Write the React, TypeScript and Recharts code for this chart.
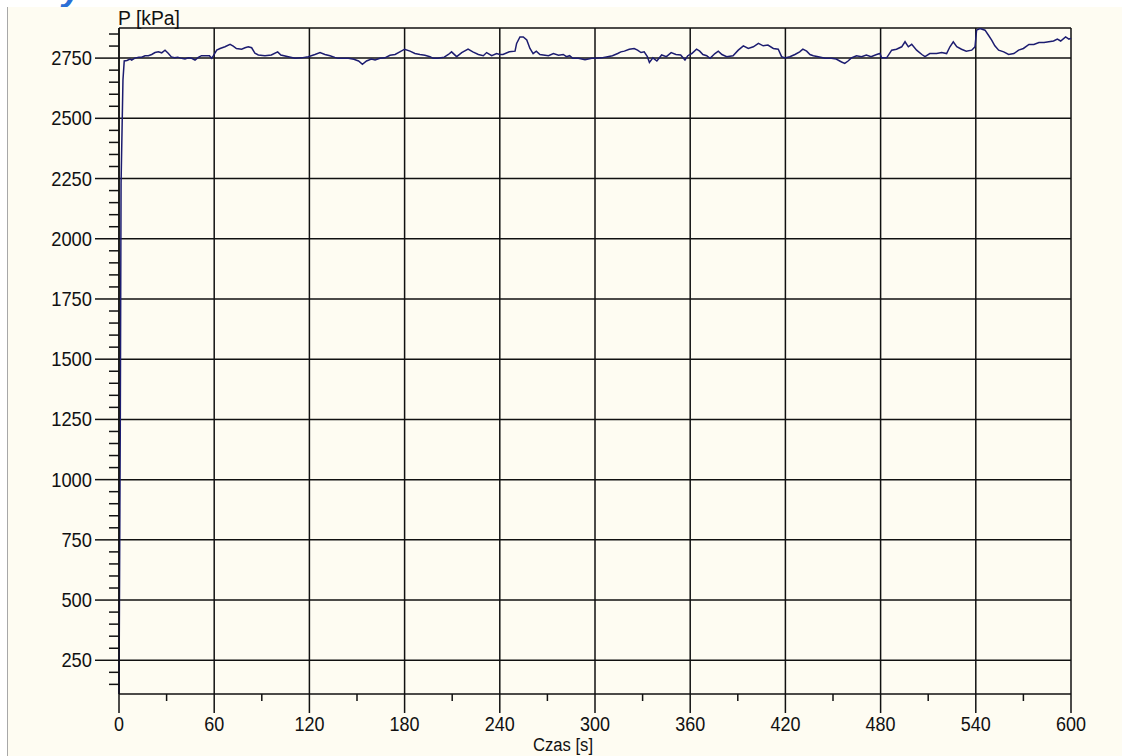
import { LineChart, Line, XAxis, YAxis, CartesianGrid } from "recharts";

// pressure trace
const czas = [
  0, 0.8, 1.3, 2.5, 3.3, 5, 7, 8, 10, 12.5, 14.3, 16.4, 18.5, 20.6, 22.7, 24.8, 26.9, 29, 31, 33,
  35, 37, 39.5, 41.6, 43.7, 45.8, 47.9, 50, 52, 54, 57, 58.4, 59.5, 61.6, 63.7, 66.8, 70, 72, 74, 77.3,
  79.4, 81.5, 83.6, 85.7, 87.8, 92, 96, 100, 102, 106.7, 110.9, 115, 119.3, 123.5, 126.7, 129.8, 133, 136, 138, 144.5,
  148, 151, 153.4, 156, 159, 161.4, 164.5, 167.6, 170.8, 174, 177, 180, 183.4, 186.5, 189.7, 192.8, 196, 198, 201, 205,
  207.6, 209.6, 212.8, 216, 220, 223, 226.5, 229.6, 231.7, 234.9, 238, 240, 242, 246, 249.6, 250.6, 252.7, 254.8, 257, 259,
  261, 263, 265.3, 268.5, 270.7, 273.8, 277, 280, 282, 284, 286, 289.5, 293.7, 298, 300, 304, 308, 311, 314.3, 316.3,
  318.5, 321.6, 324.7, 326.8, 329, 331, 333, 334.3, 336.5, 339, 342, 345, 348, 351, 354, 356.7, 358.5, 361, 364, 366,
  368, 370.4, 372.5, 375.6, 377.7, 380, 383, 387, 390.3, 393.5, 396.6, 399.8, 403, 406, 409, 412.4, 415.5, 417.6, 419.7, 422.8,
  426, 429, 431, 433.4, 435.5, 437.6, 440.7, 445, 449, 452, 455.4, 457.4, 459.5, 461.6, 464.8, 468, 471, 474, 477.5, 479.6,
  480.6, 483.8, 487, 490, 493.3, 495.4, 497.5, 499.6, 502.7, 506, 508, 511, 515.3, 518.5, 521.6, 523.7, 525.8, 528, 531, 534,
  537.4, 539.5, 540.5, 542.7, 545.8, 548, 550, 552, 554.4, 557.6, 560.7, 564, 567, 570, 573.5, 576.6, 579.8, 583, 586, 589,
  591.4, 593.5, 596.6, 598.7, 600,
];
const cisnienie = [
  110, 1200, 2230, 2660, 2738, 2740, 2746, 2742, 2750, 2754, 2754, 2760, 2760, 2765, 2773, 2776, 2772, 2783, 2770, 2755,
  2752, 2754, 2749, 2746, 2751, 2749, 2742, 2753, 2760, 2760, 2760, 2749, 2760, 2783, 2790, 2797, 2807, 2800, 2790, 2787,
  2793, 2797, 2793, 2770, 2763, 2760, 2763, 2776, 2763, 2756, 2749, 2751, 2756, 2765, 2773, 2765, 2760, 2753, 2749, 2749,
  2745, 2738, 2724, 2738, 2746, 2742, 2749, 2751, 2762, 2765, 2776, 2787, 2779, 2769, 2765, 2762, 2756, 2749, 2749, 2754,
  2765, 2776, 2756, 2773, 2787, 2776, 2765, 2760, 2773, 2760, 2769, 2765, 2765, 2776, 2779, 2811, 2838, 2838, 2825, 2790,
  2769, 2779, 2765, 2762, 2760, 2769, 2762, 2765, 2756, 2760, 2749, 2749, 2743, 2749, 2749, 2751, 2756, 2760, 2769, 2776,
  2779, 2787, 2790, 2783, 2773, 2776, 2756, 2732, 2751, 2738, 2763, 2756, 2773, 2765, 2763, 2742, 2760, 2769, 2787, 2779,
  2765, 2760, 2749, 2769, 2779, 2765, 2756, 2760, 2783, 2801, 2790, 2797, 2811, 2801, 2804, 2790, 2787, 2756, 2751, 2756,
  2765, 2776, 2787, 2779, 2765, 2760, 2756, 2749, 2749, 2746, 2734, 2728, 2738, 2751, 2760, 2756, 2763, 2756, 2765, 2769,
  2751, 2751, 2783, 2787, 2797, 2818, 2797, 2807, 2783, 2765, 2756, 2769, 2769, 2773, 2769, 2797, 2818, 2797, 2787, 2779,
  2783, 2797, 2866, 2873, 2866, 2845, 2825, 2801, 2783, 2776, 2765, 2769, 2783, 2790, 2807, 2807, 2815, 2815, 2818, 2821,
  2829, 2821, 2838, 2829, 2832,
];

const xLabels = [0, 60, 120, 180, 240, 300, 360, 420, 480, 540, 600];
const yLabels = [250, 500, 750, 1000, 1250, 1500, 1750, 2000, 2250, 2500, 2750];
const yDomain = [110, 2875];

const data = czas.map((t, i) => ({ t, p: cisnienie[i] }));

// minor ticks: every 30 s and every 50 kPa
const xTicks: number[] = [];
for (let v = 0; v <= 600; v += 30) xTicks.push(v);
const yTicks: number[] = [];
for (let v = 150; v <= 2850; v += 50) yTicks.push(v);

const INK = "#111111";
const FONT = "Liberation Sans";

function YTick(props: any) {
  const { x, y, payload } = props;
  const major = yLabels.includes(payload.value);
  const s = String(payload.value);
  return (
    <g>
      <line x1={x - (major ? 24 : 10)} x2={x} y1={y} y2={y} stroke={INK} strokeWidth={1.5} />
      {major && (
        <text
          x={x - 27}
          y={y + 7}
          textAnchor="end"
          fontFamily={FONT}
          fontSize={21}
          fill={INK}
          textLength={s.length * 10.2}
          lengthAdjust="spacingAndGlyphs"
        >
          {s}
        </text>
      )}
    </g>
  );
}

function XTick(props: any) {
  const { x, y, payload } = props;
  const major = xLabels.includes(payload.value);
  const s = String(payload.value);
  return (
    <g>
      <line x1={x} x2={x} y1={y} y2={y + (major ? 19 : 7)} stroke={INK} strokeWidth={1.5} />
      {major && (
        <text
          x={x}
          y={y + 37}
          textAnchor="middle"
          fontFamily={FONT}
          fontSize={20}
          fill={INK}
          textLength={s.length * 10}
          lengthAdjust="spacingAndGlyphs"
        >
          {s}
        </text>
      )}
    </g>
  );
}

function YTitle(props: any) {
  const vb = props.viewBox || {};
  return (
    <text
      x={vb.x + vb.width - 1}
      y={vb.y - 3}
      fontFamily={FONT}
      fontSize={20}
      fill={INK}
      textLength={62}
      lengthAdjust="spacingAndGlyphs"
    >
      P [kPa]
    </text>
  );
}

function XTitle(props: any) {
  const vb = props.viewBox || {};
  return (
    <text
      x={vb.x + 414}
      y={vb.y + 57}
      fontFamily={FONT}
      fontSize={18}
      fill={INK}
      textLength={60}
      lengthAdjust="spacingAndGlyphs"
    >
      Czas [s]
    </text>
  );
}

export default function App() {
  return (
    <div style={{ position: "absolute", left: 0, top: 0, width: 1122, height: 756, background: "#ffffff", overflow: "hidden" }}>
      <div
        style={{
          position: "absolute",
          left: 62,
          top: -30,
          fontSize: 36,
          lineHeight: "36px",
          fontStyle: "italic",
          fontWeight: "bold",
          fontFamily: FONT,
          color: "#2b6fd6",
        }}
      >
        y
      </div>
      <div
        style={{
          position: "absolute",
          left: 7,
          top: 7,
          right: 0,
          bottom: 0,
          background: "#fefcf2",
          borderLeft: "1px solid #a8a8a8",
        }}
      />
      <div style={{ position: "absolute", left: 0, top: 0 }}>
        <LineChart width={1122} height={756} data={data} margin={{ top: 28, right: 51, left: 0, bottom: 0 }}>
          <CartesianGrid
            horizontalValues={[...yLabels, yDomain[1]]}
            verticalValues={xLabels}
            stroke={INK}
            strokeWidth={1.5}
            strokeDasharray=""
          />
          <XAxis
            dataKey="t"
            type="number"
            domain={[0, 600]}
            ticks={xTicks}
            interval={0}
            height={62}
            tickSize={0}
            tickMargin={0}
            tick={<XTick />}
            axisLine={{ stroke: INK, strokeWidth: 1.5 }}
            label={<XTitle />}
          />
          <YAxis
            type="number"
            domain={yDomain}
            allowDataOverflow
            ticks={yTicks}
            interval={0}
            width={119}
            tickSize={0}
            tickMargin={0}
            tick={<YTick />}
            axisLine={{ stroke: INK, strokeWidth: 1.5 }}
            label={<YTitle />}
          />
          <Line
            dataKey="p"
            type="linear"
            stroke="#1c1c70"
            strokeWidth={1.5}
            dot={false}
            isAnimationActive={false}
          />
        </LineChart>
      </div>
    </div>
  );
}
